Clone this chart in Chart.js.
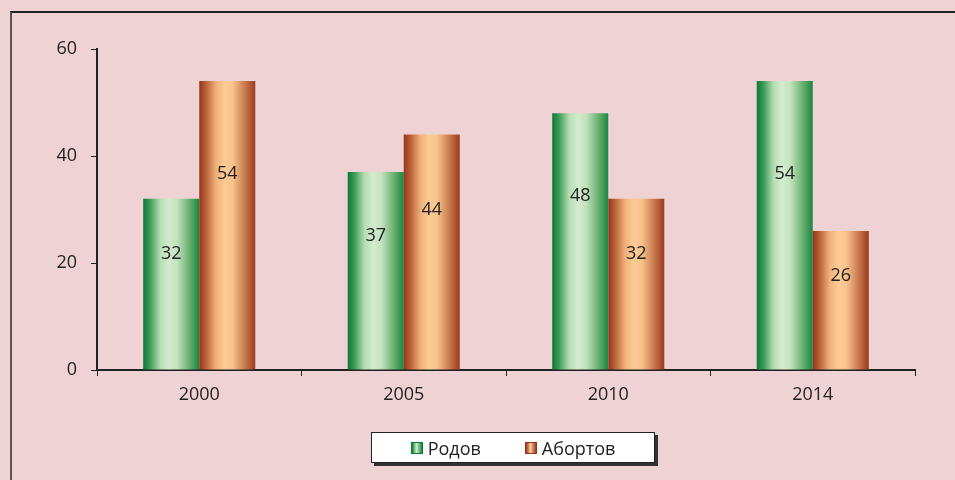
<!DOCTYPE html>
<html>
<head>
<meta charset="utf-8">
<script src="https://cdn.jsdelivr.net/npm/chart.js@4"></script>
<style>

    html, body {
        margin: 0;
        padding: 0;
        background: #efd3d4;
        overflow: hidden;
    }

    .marco {
        position: absolute;
        left: 10px;
        top: 11px;
        width: 960px;
        height: 480px;
        border-top: 2px solid #222;
        border-left: 2px solid #555;
    }

    .lienzo {
        position: absolute;
        left: 0;
        top: 0;
        width: 955px;
        height: 480px;
    }

    .leyenda {
        position: absolute;
        left: 371px;
        top: 432px;
        width: 282px;
        height: 29px;
        background: #fff;
        border: 1px solid #222;
        box-shadow: 3px 3px 0 #333;
        font-family: "Open Sans", sans-serif;
        font-size: 18px;
        color: #222;
        display: flex;
        align-items: center;
        justify-content: center;
        gap: 44px;
    }

    .item {
        display: flex;
        align-items: center;
        gap: 5px;
    }

    .cuadro {
        width: 10px;
        height: 10px;
    }

    .verde {
        border: 1px solid #0b7a3a;
        background: linear-gradient(to right, #0b7a3a, #d3ebcd 45%, #1b8443);
    }

    .naranja {
        border: 1px solid #983319;
        background: linear-gradient(to right, #983319, #fdcb94 45%, #9c3a1e);
    }

</style>
</head>
<body>

<div class="marco"></div>

<div class="lienzo">
    <canvas id="graficoPartos" width="955" height="480"></canvas>
</div>

<div class="leyenda">
    <div class="item"><span class="cuadro verde"></span>Родов</div>
    <div class="item"><span class="cuadro naranja"></span>Абортов</div>
</div>

<script>

// Datos

const anios = ["2000", "2005", "2010", "2014"];

const rodov = [32, 37, 48, 54];

const abortov = [54, 44, 32, 26];

const ticksY = [0, 20, 40, 60];


// Degradados de las barras

const paradasVerde = [
    [0, "#0b7a3a"],
    [0.12, "#3c9a58"],
    [0.3, "#b5ddb2"],
    [0.45, "#d3ebcd"],
    [0.6, "#c4e3be"],
    [0.85, "#5faa68"],
    [1, "#1b8443"]
];

const paradasNaranja = [
    [0, "#983319"],
    [0.12, "#b8623a"],
    [0.3, "#f0b07a"],
    [0.45, "#fdcb94"],
    [0.6, "#f8c28b"],
    [0.85, "#c06f45"],
    [1, "#9c3a1e"]
];

const fraccionCategoria = 0.548;

function degradado(paradas, lado){

    return function(context){

        const chart = context.chart;
        const x = chart.scales.x;

        if(!x || context.dataIndex === undefined){
            return paradas[3][1];
        }

        const centro = x.getPixelForValue(context.dataIndex);
        const ancho = x.width / anios.length * fraccionCategoria / 2;

        if(!isFinite(centro) || !isFinite(ancho) || ancho <= 0){
            return paradas[3][1];
        }

        const izq = lado < 0 ? centro - ancho : centro;

        const g = chart.ctx.createLinearGradient(izq, 0, izq + ancho, 0);

        paradas.forEach(function(p){
            g.addColorStop(p[0], p[1]);
        });

        return g;

    };

}


// Etiquetas de valores dentro de las barras

const etiquetas = {

    id: "etiquetas",

    afterDatasetsDraw: function(chart){

        const ctx = chart.ctx;
        const y = chart.scales.y;

        ctx.save();
        ctx.font = "18px 'Open Sans', sans-serif";
        ctx.fillStyle = "#222";
        ctx.textAlign = "center";
        ctx.textBaseline = "middle";

        chart.data.datasets.forEach(function(ds, i){

            chart.getDatasetMeta(i).data.forEach(function(bar, j){

                ctx.fillText(ds.data[j], bar.x, y.getPixelForValue(ds.data[j] * 0.68));

            });

        });

        ctx.restore();

    }

};


// Crear gráfico

new Chart(document.getElementById("graficoPartos"), {

    type: "bar",

    data: {

        labels: anios,

        datasets: [{

            label: "Родов",

            data: rodov,

            backgroundColor: degradado(paradasVerde, -1),

            barPercentage: 1,

            categoryPercentage: fraccionCategoria

        }, {

            label: "Абортов",

            data: abortov,

            backgroundColor: degradado(paradasNaranja, 1),

            barPercentage: 1,

            categoryPercentage: fraccionCategoria

        }]

    },

    options: {

        responsive: false,

        animation: false,

        layout: {
            padding: { left: 40, top: 49, right: 40, bottom: 0 }
        },

        plugins: {

            legend: { display: false },

            tooltip: { enabled: false }

        },

        scales: {

            x: {

                afterFit: function(scale){ scale.height = 110; },

                grid: {
                    offset: true,
                    drawOnChartArea: false,
                    tickLength: 6,
                    color: "#222",
                    lineWidth: 1
                },

                border: {
                    color: "#222",
                    width: 2
                },

                ticks: {
                    color: "#222",
                    padding: 8,
                    font: { family: "Open Sans", size: 18 }
                }

            },

            y: {

                min: 0,

                max: 60,

                afterFit: function(scale){ scale.width = 57; },

                afterBuildTicks: function(scale){
                    scale.ticks = ticksY.map(function(v){ return { value: v }; });
                },

                grid: {
                    drawOnChartArea: false,
                    tickLength: 6,
                    color: "#222",
                    lineWidth: 1
                },

                border: {
                    color: "#222",
                    width: 2
                },

                ticks: {
                    color: "#222",
                    padding: 14,
                    font: { family: "Open Sans", size: 18 }
                }

            }

        }

    },

    plugins: [etiquetas]

});

</script>
</body>
</html>
